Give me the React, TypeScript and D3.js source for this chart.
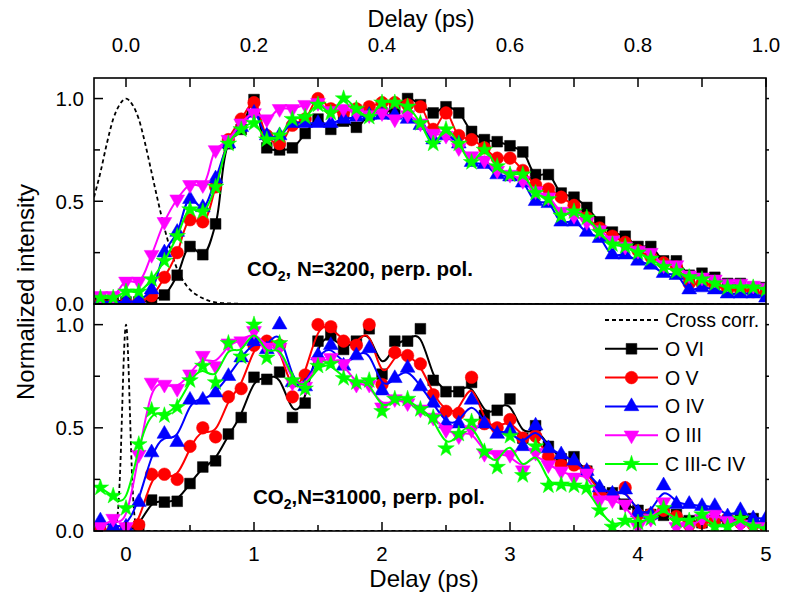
import React from 'react';
import * as d3 from 'd3';

// ---------- data ----------
const tTop = [-0.04, -0.02, 0, 0.02, 0.04, 0.06, 0.08, 0.1, 0.12, 0.14, 0.16, 0.18, 0.2, 0.22, 0.24, 0.26, 0.28, 0.3, 0.32, 0.34, 0.36, 0.38, 0.4, 0.42, 0.44, 0.46, 0.48, 0.5, 0.52, 0.54, 0.56, 0.58, 0.6, 0.62, 0.64, 0.66, 0.68, 0.7, 0.72, 0.74, 0.76, 0.78, 0.8, 0.82, 0.84, 0.86, 0.88, 0.9, 0.92, 0.94, 0.96, 0.98, 1.0];

const topOVI = [0.02, 0.02, 0.01, 0.01, 0.02, 0.044, 0.14, 0.28, 0.24, 0.39, 0.78, 0.85, 0.995, 0.76, 0.75, 0.76, 0.83, 0.9, 0.85, 0.89, 0.86, 0.92, 0.93, 0.95, 1.0, 0.97, 0.93, 0.96, 0.93, 0.84, 0.8, 0.79, 0.77, 0.74, 0.63, 0.63, 0.54, 0.52, 0.47, 0.4, 0.35, 0.33, 0.28, 0.28, 0.21, 0.21, 0.14, 0.15, 0.13, 0.1, 0.1, 0.08, 0.08];
const topOV = [0.0, 0.0, 0.0, 0.01, 0.04, 0.13, 0.25, 0.41, 0.4, 0.57, 0.8, 0.9, 0.98, 0.82, 0.78, 0.87, 0.9, 1.0, 0.95, 0.93, 0.95, 0.96, 0.98, 0.98, 0.97, 0.96, 0.85, 0.93, 0.82, 0.8, 0.76, 0.71, 0.71, 0.65, 0.58, 0.56, 0.52, 0.48, 0.42, 0.37, 0.33, 0.3, 0.26, 0.23, 0.2, 0.18, 0.1, 0.1, 0.09, 0.07, 0.07, 0.06, 0.05];
const topOIV = [0.01, 0.01, 0.01, 0.02, 0.07, 0.25, 0.35, 0.51, 0.47, 0.61, 0.78, 0.86, 0.93, 0.82, 0.82, 0.88, 0.88, 0.88, 0.88, 0.9, 0.91, 0.92, 0.92, 0.92, 0.9, 0.87, 0.8, 0.82, 0.78, 0.69, 0.68, 0.63, 0.62, 0.59, 0.5, 0.49, 0.4, 0.4, 0.35, 0.32, 0.24, 0.24, 0.21, 0.19, 0.15, 0.14, 0.07, 0.08, 0.07, 0.05, 0.05, 0.05, 0.03];
const topOIII = [0.04, 0.04, 0.11, 0.11, 0.24, 0.4, 0.51, 0.58, 0.58, 0.75, 0.8, 0.88, 0.93, 0.9, 0.95, 0.95, 0.97, 0.98, 0.94, 0.95, 0.93, 0.92, 0.93, 0.9, 0.92, 0.88, 0.83, 0.82, 0.76, 0.72, 0.7, 0.65, 0.63, 0.6, 0.55, 0.52, 0.45, 0.43, 0.4, 0.36, 0.31, 0.28, 0.26, 0.25, 0.19, 0.19, 0.14, 0.13, 0.12, 0.1, 0.1, 0.09, 0.08];
const topCIII = [0.03, 0.03, 0.06, 0.06, 0.12, 0.21, 0.33, 0.46, 0.45, 0.57, 0.78, 0.85, 0.88, 0.8, 0.82, 0.9, 0.91, 0.97, 0.93, 1.0, 0.95, 0.91, 0.98, 0.98, 0.96, 0.88, 0.78, 0.85, 0.78, 0.69, 0.75, 0.67, 0.63, 0.63, 0.54, 0.51, 0.43, 0.45, 0.42, 0.35, 0.29, 0.28, 0.25, 0.22, 0.18, 0.16, 0.13, 0.12, 0.1, 0.08, 0.08, 0.08, 0.07];

const tBot = [-0.2, -0.1, 0, 0.1, 0.2, 0.3, 0.4, 0.5, 0.6, 0.7, 0.8, 0.9, 1.0, 1.1, 1.2, 1.3, 1.4, 1.5, 1.6, 1.7, 1.8, 1.9, 2.0, 2.1, 2.2, 2.3, 2.4, 2.5, 2.6, 2.7, 2.8, 2.9, 3.0, 3.1, 3.2, 3.3, 3.4, 3.5, 3.6, 3.7, 3.8, 3.9, 4.0, 4.1, 4.2, 4.3, 4.4, 4.5, 4.6, 4.7, 4.8, 4.9, 5.0];

const botOVI = [0.0, 0.0, 0.0, 0.02, 0.15, 0.14, 0.144, 0.23, 0.31, 0.34, 0.47, 0.55, 0.745, 0.735, 0.77, 0.55, 0.62, 0.92, 0.95, 0.88, 0.92, 0.98, 0.76, 0.92, 0.92, 0.98, 0.73, 0.675, 0.675, 0.72, 0.56, 0.585, 0.64, 0.45, 0.51, 0.41, 0.35, 0.36, 0.29, 0.19, 0.185, 0.13, 0.1, 0.08, 0.076, 0.08, 0.05, 0.04, 0.05, 0.05, 0.06, 0.06, 0.03];
const botOV = [0.0, 0.0, 0.0, 0.03, 0.275, 0.275, 0.25, 0.41, 0.5, 0.456, 0.65, 0.69, 0.9, 0.92, 0.9, 0.65, 0.756, 1.0, 0.99, 0.92, 0.9, 1.0, 0.71, 0.865, 0.85, 0.81, 0.66, 0.58, 0.57, 0.745, 0.52, 0.5, 0.54, 0.45, 0.46, 0.36, 0.32, 0.32, 0.29, 0.18, 0.17, 0.21, 0.08, 0.08, 0.1, 0.07, 0.03, 0.04, 0.05, 0.06, 0.04, 0.03, 0.02];
const botOIV = [0.05, 0.02, 0.02, 0.14, 0.38, 0.47, 0.43, 0.635, 0.635, 0.67, 0.75, 0.84, 0.92, 0.88, 1.0, 0.72, 0.7, 0.85, 0.9, 0.8, 0.85, 0.885, 0.68, 0.74, 0.79, 0.7, 0.62, 0.52, 0.52, 0.635, 0.52, 0.47, 0.49, 0.41, 0.51, 0.4, 0.37, 0.34, 0.29, 0.21, 0.18, 0.2, 0.09, 0.08, 0.22, 0.13, 0.13, 0.12, 0.12, 0.07, 0.1, 0.06, 0.06];
const botOIII = [0.02, 0.06, 0.02, 0.37, 0.72, 0.71, 0.69, 0.76, 0.85, 0.8, 0.91, 0.92, 0.97, 0.89, 0.89, 0.72, 0.7, 0.82, 0.84, 0.81, 0.71, 0.71, 0.6, 0.64, 0.62, 0.59, 0.55, 0.49, 0.46, 0.49, 0.375, 0.37, 0.37, 0.295, 0.38, 0.32, 0.29, 0.26, 0.28, 0.15, 0.15, 0.13, 0.02, 0.06, 0.14, 0.02, 0.02, 0.06, 0.08, 0.05, 0.03, 0.02, 0.02];
const botCIII = [0.21, 0.17, 0.11, 0.42, 0.585, 0.56, 0.6, 0.73, 0.8, 0.72, 0.91, 0.845, 1.0, 0.84, 0.91, 0.73, 0.69, 0.8, 0.81, 0.74, 0.72, 0.73, 0.58, 0.64, 0.64, 0.59, 0.55, 0.4, 0.47, 0.53, 0.385, 0.31, 0.46, 0.27, 0.41, 0.22, 0.225, 0.22, 0.21, 0.1, 0.02, 0.05, 0.04, 0.06, 0.11, 0.05, 0.05, 0.08, 0.02, 0.02, 0.06, 0.02, 0.01];

const ccTopT = [-0.05, -0.04, -0.03, -0.02, -0.01, 0, 0.01, 0.02, 0.03, 0.04, 0.05, 0.06, 0.07, 0.08, 0.09, 0.1, 0.11, 0.12, 0.13, 0.14, 0.16, 0.2, 0.4, 0.6, 0.8, 1.0];
const ccTopV = [0.52, 0.64, 0.78, 0.9, 0.97, 1.0, 0.97, 0.9, 0.78, 0.64, 0.5, 0.37, 0.26, 0.17, 0.11, 0.07, 0.045, 0.028, 0.015, 0.008, 0.003, 0, 0, 0, 0, 0];
const ccBotT = [-0.25, -0.15, -0.1, -0.08, -0.06, -0.05, -0.04, -0.03, -0.02, -0.01, 0, 0.01, 0.02, 0.03, 0.04, 0.05, 0.06, 0.08, 0.1, 0.15, 0.5, 1, 2, 3, 4, 5];
const ccBotV = [0, 0, 0.003, 0.022, 0.12, 0.23, 0.39, 0.59, 0.79, 0.94, 1, 0.94, 0.79, 0.59, 0.39, 0.23, 0.12, 0.022, 0.003, 0, 0, 0, 0, 0, 0, 0];

const seriesNames = ['O VI', 'O V', 'O IV', 'O III', 'C III-C IV'];
const seriesColors = ['#000000', '#ff0000', '#0000ff', '#ff00ff', '#00ff00'];
const topValues = [topOVI, topOV, topOIV, topOIII, topCIII];
const botValues = [botOVI, botOV, botOIV, botOIII, botCIII];

const topTickLabels = ['0.0', '0.2', '0.4', '0.6', '0.8', '1.0'];
const botTickLabels = ['0', '1', '2', '3', '4', '5'];
const yTickLabels = ['0.0', '0.5', '1.0'];

// ---------- layout ----------
const W = 786, H = 595;
const L = 94, R = 766;
const TOP_T = 78, TOP_B = 304, BOT_T = 304, BOT_B = 531;
const FONT = '"Liberation Sans", Arial, Helvetica, sans-serif';

const symTypes = [d3.symbolSquare, d3.symbolCircle, d3.symbolTriangle, d3.symbolTriangle, d3.symbolStar];
const symSizes = [115, 125, 95, 95, 85];
const symRot = [0, 0, 0, 180, 0];

function markerPath(i: number) {
  return d3.symbol().type(symTypes[i]).size(symSizes[i])() as string;
}

export default function App() {
  const xT = d3.scaleLinear().domain([-0.05, 1.0]).range([L, R]);
  const xB = d3.scaleLinear().domain([-0.25, 5]).range([L, R]);
  const yT = d3.scaleLinear().domain([0, 1.1]).range([TOP_B, TOP_T]);
  const yB = d3.scaleLinear().domain([0, 1.1]).range([BOT_B, BOT_T]);

  const lineTop = (vals: number[]) =>
    d3.line<number>().x((_, i) => xT(tTop[i])).y((d) => yT(d))
      .curve(d3.curveCatmullRom.alpha(0.5))(vals) as string;
  const lineBot = (vals: number[]) =>
    d3.line<number>().x((_, i) => xB(tBot[i])).y((d) => yB(d)).curve(d3.curveBasis)(vals) as string;

  const ccTop = d3.line<number>().x((_, i) => xT(ccTopT[i])).y((d) => yT(d)).curve(d3.curveMonotoneX)(ccTopV) as string;
  const ccBot = d3.line<number>().x((_, i) => xB(ccBotT[i])).y((d) => yB(d)).curve(d3.curveMonotoneX)(ccBotV) as string;

  const yTicks = [0, 0.25, 0.5, 0.75, 1.0];
  const xTopTicks = xT.ticks(10);
  const xBotTicks = xB.ticks(10);

  const renderSeries = (panel: 'top' | 'bot') =>
    seriesNames.map((name, si) => {
      const vals = panel === 'top' ? topValues[si] : botValues[si];
      const xs = panel === 'top' ? tTop : tBot;
      const xs_ = panel === 'top' ? xT : xB;
      const ys_ = panel === 'top' ? yT : yB;
      const d = panel === 'top' ? lineTop(vals) : lineBot(vals);
      const mp = markerPath(si);
      return (
        <g key={panel + name}>
          <path d={d} fill="none" stroke={seriesColors[si]} strokeWidth={2} />
          {vals.map((v, i) => (
            <path key={i} d={mp} fill={seriesColors[si]} stroke={seriesColors[si]} strokeWidth={0.5}
              transform={`translate(${xs_(xs[i])},${ys_(v)}) rotate(${symRot[si]})`} />
          ))}
        </g>
      );
    });

  const legendX1 = 605, legendX2 = 658, legendTextX = 665;
  const legendY0 = 320, legendDy = 28.8;
  const titleX = 421;

  return (
    <svg width={W} height={H} style={{ position: 'absolute', left: 0, top: 0, background: '#fff' }} fontFamily={FONT}>
      <defs>
        <clipPath id="clipTop"><rect x={L} y={TOP_T} width={R - L} height={TOP_B - TOP_T} /></clipPath>
        <clipPath id="clipBot"><rect x={L} y={BOT_T} width={R - L} height={BOT_B - BOT_T} /></clipPath>
      </defs>
      <rect x={0} y={0} width={W} height={H} fill="#fff" />

      {/* top panel */}
      <g clipPath="url(#clipTop)">
        <path d={ccTop} fill="none" stroke="#000" strokeWidth={1.8} strokeDasharray="4,3" />
        {renderSeries('top')}
      </g>
      {/* bottom panel */}
      <g clipPath="url(#clipBot)">
        <path d={ccBot} fill="none" stroke="#000" strokeWidth={1.8} strokeDasharray="4,3" />
        {renderSeries('bot')}
      </g>

      {/* frames */}
      <rect x={L} y={TOP_T} width={R - L} height={TOP_B - TOP_T} fill="none" stroke="#000" strokeWidth={1.6} />
      <rect x={L} y={BOT_T} width={R - L} height={BOT_B - BOT_T} fill="none" stroke="#000" strokeWidth={1.6} />

      {/* top axis ticks */}
      {xTopTicks.map((t) => (
        <line key={'tt' + t} x1={xT(t)} x2={xT(t)} y1={TOP_T} y2={TOP_T + 9} stroke="#000" strokeWidth={1.5} />
      ))}
      {topTickLabels.map((lab) => (
        <text key={'ttl' + lab} x={xT(+lab)} y={52} textAnchor="middle" fontSize={20.5}>{lab}</text>
      ))}
      <text x={titleX} y={27} textAnchor="middle" fontSize={23.5}>Delay (ps)</text>

      {/* bottom axis ticks */}
      {xBotTicks.map((t) => (
        <line key={'bt' + t} x1={xB(t)} x2={xB(t)} y1={BOT_B} y2={BOT_B - (Number.isInteger(t) ? 9 : 6)} stroke="#000" strokeWidth={1.5} />
      ))}
      {botTickLabels.map((lab) => (
        <text key={'btl' + lab} x={xB(+lab)} y={561} textAnchor="middle" fontSize={20.5}>{lab}</text>
      ))}
      <text x={titleX + 3} y={587} textAnchor="middle" fontSize={24}>Delay (ps)</text>

      {/* y ticks */}
      {[{ y: yT, k: 't' }, { y: yB, k: 'b' }].map(({ y, k }) => (
        <g key={'y' + k}>
          {yTicks.map((v) => {
            const major = v === 0 || v === 0.5 || v === 1.0;
            return (
              <g key={v}>
                <line x1={L} x2={L + (major ? 9 : 6)} y1={y(v)} y2={y(v)} stroke="#000" strokeWidth={1.5} />
                <line x1={R} x2={R + 3} y1={y(v)} y2={y(v)} stroke="#000" strokeWidth={1.5} />
              </g>
            );
          })}
          {yTickLabels.map((lab) => (
            <text key={lab} x={84} y={y(+lab)} dy="0.36em" textAnchor="end" fontSize={20.5}>{lab}</text>
          ))}
        </g>
      ))}
      <text transform={`translate(34,292) rotate(-90)`} textAnchor="middle" fontSize={24}>Normalized intensity</text>

      {/* annotations */}
      <text x={247} y={276} fontSize={20.5} fontWeight="bold">
        CO<tspan fontSize={14} dy={5}>2</tspan><tspan dy={-5}>, N=3200, perp. pol.</tspan>
      </text>
      <text x={253} y={504} fontSize={20.5} fontWeight="bold">
        CO<tspan fontSize={14} dy={5}>2</tspan><tspan dy={-5}>,N=31000, perp. pol.</tspan>
      </text>

      {/* legend */}
      <line x1={legendX1} x2={legendX2} y1={legendY0} y2={legendY0} stroke="#000" strokeWidth={1.8} strokeDasharray="4,3" />
      <text x={legendTextX} y={legendY0} dy="0.36em" fontSize={19.5}>Cross corr.</text>
      {seriesNames.map((name, si) => {
        const yy = legendY0 + legendDy * (si + 1);
        return (
          <g key={'lg' + name}>
            <line x1={legendX1} x2={legendX2} y1={yy} y2={yy} stroke={seriesColors[si]} strokeWidth={2} />
            <path d={markerPath(si)} fill={seriesColors[si]} stroke={seriesColors[si]} strokeWidth={0.5}
              transform={`translate(${(legendX1 + legendX2) / 2},${yy}) rotate(${symRot[si]})`} />
            <text x={legendTextX} y={yy} dy="0.36em" fontSize={19.5}>{name}</text>
          </g>
        );
      })}
    </svg>
  );
}
